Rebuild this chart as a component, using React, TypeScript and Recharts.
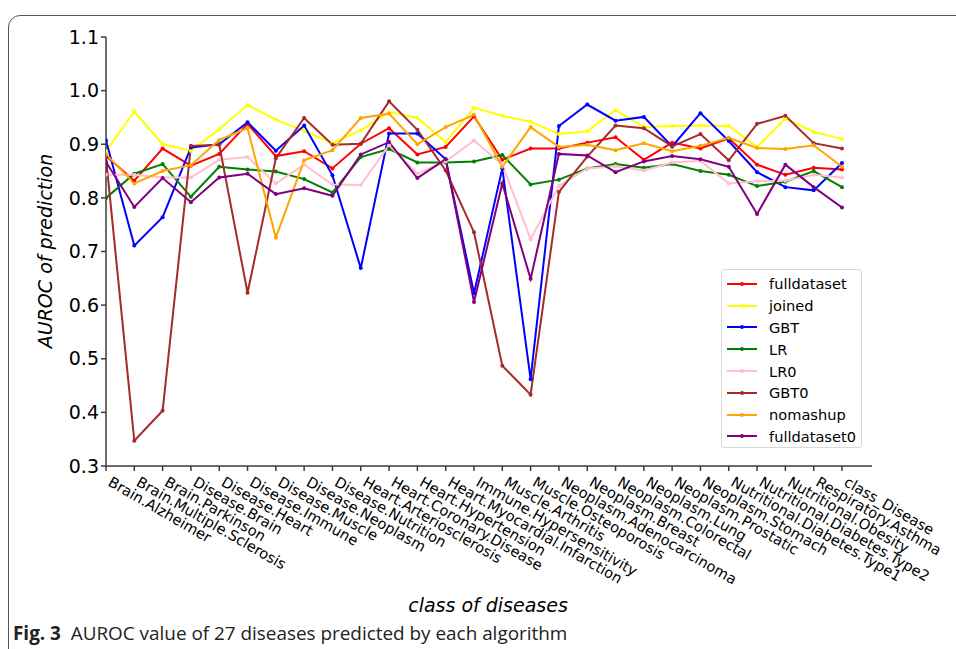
import React from "react";
import { LineChart, Line, XAxis, YAxis, Legend } from "recharts";

// 27 disease classes on the x axis
const categories = [
  "Brain.Alzheimer",
  "Brain.Multiple.Sclerosis",
  "Brain.Parkinson",
  "Disease.Brain",
  "Disease.Heart",
  "Disease.Immune",
  "Disease.Muscle",
  "Disease.Neoplasm",
  "Disease.Nutrition",
  "Heart.Arteriosclerosis",
  "Heart.Coronary.Disease",
  "Heart.Hypertension",
  "Heart.Myocardial.Infarction",
  "Immune.Hypersensitivity",
  "Muscle.Arthritis",
  "Muscle.Osteoporosis",
  "Neoplasm.Adenocarcinoma",
  "Neoplasm.Breast",
  "Neoplasm.Colorectal",
  "Neoplasm.Lung",
  "Neoplasm.Prostatic",
  "Neoplasm.Stomach",
  "Nutritional.Diabetes.Type1",
  "Nutritional.Diabetes.Type2",
  "Nutritional.Obesity",
  "Respiratory.Asthma",
  "class_Disease",
];

// AUROC per algorithm
const fulldataset = [0.878, 0.832, 0.892, 0.86, 0.882, 0.938, 0.878, 0.887, 0.855, 0.901, 0.93, 0.881, 0.895, 0.952, 0.871, 0.892, 0.892, 0.903, 0.913, 0.871, 0.903, 0.892, 0.911, 0.862, 0.843, 0.856, 0.853];
const joined = [0.887, 0.961, 0.9, 0.888, 0.928, 0.973, 0.946, 0.925, 0.902, 0.926, 0.96, 0.949, 0.904, 0.968, 0.953, 0.942, 0.919, 0.924, 0.964, 0.932, 0.934, 0.935, 0.934, 0.895, 0.948, 0.923, 0.91];
const GBT = [0.907, 0.711, 0.764, 0.894, 0.9, 0.941, 0.888, 0.935, 0.842, 0.669, 0.92, 0.92, 0.872, 0.622, 0.855, 0.462, 0.934, 0.974, 0.944, 0.951, 0.896, 0.958, 0.906, 0.848, 0.82, 0.814, 0.865];
const LR = [0.8, 0.845, 0.863, 0.802, 0.858, 0.853, 0.849, 0.835, 0.81, 0.876, 0.891, 0.866, 0.866, 0.868, 0.88, 0.825, 0.834, 0.855, 0.863, 0.856, 0.863, 0.85, 0.843, 0.822, 0.83, 0.85, 0.82];
const LR0 = [0.843, 0.843, 0.838, 0.838, 0.871, 0.876, 0.827, 0.862, 0.825, 0.824, 0.898, 0.845, 0.868, 0.907, 0.862, 0.723, 0.822, 0.855, 0.859, 0.851, 0.866, 0.869, 0.827, 0.831, 0.832, 0.843, 0.838];
const GBT0 = [0.875, 0.347, 0.403, 0.897, 0.899, 0.623, 0.874, 0.949, 0.899, 0.901, 0.98, 0.927, 0.851, 0.736, 0.487, 0.433, 0.811, 0.877, 0.935, 0.93, 0.896, 0.919, 0.87, 0.938, 0.953, 0.902, 0.892];
const nomashup = [0.881, 0.827, 0.85, 0.861, 0.908, 0.93, 0.726, 0.87, 0.889, 0.949, 0.957, 0.9, 0.932, 0.955, 0.858, 0.932, 0.895, 0.899, 0.889, 0.902, 0.887, 0.897, 0.912, 0.893, 0.891, 0.898, 0.858];
const fulldataset0 = [0.867, 0.783, 0.837, 0.792, 0.838, 0.845, 0.807, 0.818, 0.804, 0.881, 0.904, 0.837, 0.872, 0.606, 0.827, 0.649, 0.882, 0.879, 0.848, 0.868, 0.878, 0.872, 0.858, 0.77, 0.862, 0.82, 0.782];

const yTicks = [0.3, 0.4, 0.5, 0.6, 0.7, 0.8, 0.9, 1.0, 1.1];

const series = [
  { key: "fulldataset", values: fulldataset, color: "#ff0000" },
  { key: "joined", values: joined, color: "#ffff00" },
  { key: "GBT", values: GBT, color: "#0000ff" },
  { key: "LR", values: LR, color: "#008000" },
  { key: "LR0", values: LR0, color: "#ffc0cb" },
  { key: "GBT0", values: GBT0, color: "#a52a2a" },
  { key: "nomashup", values: nomashup, color: "#ffa500" },
  { key: "fulldataset0", values: fulldataset0, color: "#800080" },
];

const data = categories.map((name, i) => {
  const row: any = { idx: i, name };
  series.forEach((s) => (row[s.key] = s.values[i]));
  return row;
});

const AXIS = "#3c3c3c";
const MPL = "DejaVu Sans, sans-serif";

const RotatedTick = (props: any) => {
  const { x, y, payload } = props;
  const tx = x + 1;
  const ty = y + 12;
  return (
    <text
      x={tx}
      y={ty}
      transform={`rotate(30, ${tx}, ${ty})`}
      textAnchor="start"
      fontSize={14.6}
      fontFamily={MPL}
      fill="#000"
    >
      {categories[payload.value]}
    </text>
  );
};

// legend keeps the plotting order, not alphabetical
const renderLegend = () => (
  <div
    style={{
      border: "1px solid #d9d9d9",
      borderRadius: 3,
      background: "#fff",
      padding: "3px 0 4px 5px",
      fontFamily: MPL,
      fontSize: 14.6,
      boxSizing: "border-box",
      width: 141,
      height: 179,
    }}
  >
    {series.map((s) => (
      <div key={s.key} style={{ display: "flex", alignItems: "center", height: 21.8 }}>
        <svg width={42} height={10}>
          <line x1={0} y1={5} x2={30} y2={5} stroke={s.color} strokeWidth={2} />
          <circle cx={15} cy={5} r={2} fill={s.color} />
        </svg>
        <span>{s.key}</span>
      </div>
    ))}
  </div>
);

const App = () => {
  return (
    <div
      style={{
        position: "fixed",
        left: 0,
        top: 0,
        width: 956,
        height: 649,
        overflow: "hidden",
        background: "#fff",
      }}
    >
      {/* article figure frame */}
      <div
        style={{
          position: "absolute",
          left: 8,
          top: 15,
          width: 1000,
          height: 700,
          border: "1px solid #555",
          borderRadius: 12,
        }}
      />

      <LineChart
        width={956}
        height={649}
        data={data}
        margin={{ top: 37, right: 84, bottom: 33, left: 46 }}
        style={{ position: "absolute", left: 0, top: 0 }}
      >
        <XAxis
          dataKey="idx"
          type="number"
          domain={[0, 27.06]}
          ticks={categories.map((_, i) => i)}
          interval={0}
          height={150}
          stroke={AXIS}
          strokeWidth={1.5}
          tickSize={5}
          tick={<RotatedTick />}
          allowDataOverflow
        />
        <XAxis
          xAxisId="top"
          orientation="top"
          dataKey="idx"
          type="number"
          domain={[0, 27.06]}
          height={0}
          tick={false}
          tickLine={false}
          stroke={AXIS}
          strokeWidth={1.5}
        />
        <YAxis
          domain={[0.3, 1.1]}
          ticks={yTicks}
          width={60}
          stroke={AXIS}
          strokeWidth={1.5}
          tickSize={5}
          tickFormatter={(v: number) => v.toFixed(1)}
          tick={{ fill: "#000", fontSize: 19, fontFamily: MPL }}
          allowDataOverflow
        />
        <YAxis
          yAxisId="right"
          orientation="right"
          domain={[0.3, 1.1]}
          width={0}
          tick={false}
          tickLine={false}
          stroke={AXIS}
          strokeWidth={1.5}
        />
        {series.map((s) => (
          <Line
            key={s.key}
            dataKey={s.key}
            name={s.key}
            stroke={s.color}
            strokeWidth={2}
            dot={{ r: 2, fill: s.color, stroke: s.color, strokeWidth: 0 }}
            activeDot={false}
            isAnimationActive={false}
          />
        ))}
        <Legend
          layout="vertical"
          align="center"
          verticalAlign="middle"
          content={renderLegend}
          wrapperStyle={{ left: 721, top: 269, width: 141, height: 179 }}
        />
      </LineChart>

      {/* axis titles */}
      <div
        style={{
          position: "absolute",
          left: 45,
          top: 251,
          transform: "translate(-50%, -50%) rotate(-90deg)",
          fontFamily: MPL,
          fontStyle: "italic",
          fontSize: 19,
          whiteSpace: "nowrap",
        }}
      >
        AUROC of prediction
      </div>
      <div
        style={{
          position: "absolute",
          left: 488,
          top: 605,
          transform: "translate(-50%, -50%)",
          fontFamily: MPL,
          fontStyle: "italic",
          fontSize: 19,
          whiteSpace: "nowrap",
        }}
      >
        class of diseases
      </div>

      {/* caption */}
      <div
        style={{
          position: "absolute",
          left: 13,
          top: 620,
          fontFamily: "Open Sans, sans-serif",
          fontSize: 18.9,
          color: "#222",
          whiteSpace: "nowrap",
        }}
      >
        <b>Fig. 3</b>&nbsp; AUROC value of 27 diseases predicted by each algorithm
      </div>
    </div>
  );
};

export default App;
